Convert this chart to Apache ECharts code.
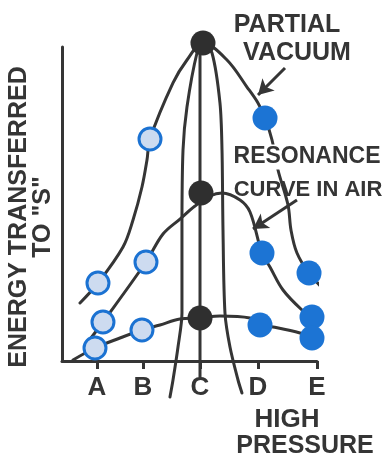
<!DOCTYPE html>
<html>
<head>
<meta charset="utf-8">
<script src="https://cdn.jsdelivr.net/npm/echarts@6/dist/echarts.min.js"></script>
<style>
html,body{margin:0;padding:0;background:#fff;}
#chart{width:387px;height:461px;}
</style>
</head>
<body>
<div id="chart"></div>
<script>
// ---- data (x: driving frequency, A..E ; y: energy transferred to "S") ----
const tickLetters = ['A', 'B', 'C', 'D', 'E'];
const tickValues = [1, 1.836, 2.873, 3.927, 5];

// partial vacuum resonance curve (traced line)
const vacuumCurve = [
  [0.691, 1.847], [1.018, 2.484], [1.473, 3.631], [1.655, 4.490], [1.818, 5.541],
  [1.909, 6.401], [1.964, 7.070], [2.382, 8.854], [2.636, 9.586], [2.927, 10.127], [3.364, 9.586],
  [3.727, 8.726], [3.927, 8.217], [4.055, 7.739], [4.182, 7.038], [4.291, 6.083],
  [4.473, 4.968], [4.527, 4.172], [4.636, 3.439], [4.855, 2.803], [5.273, 2.006]
];
// very sharp resonance lines around C
const sharpCurve = [
  [2.327, -1.146], [2.382, -0.605], [2.473, 0.446], [2.545, 1.529], [2.545, 4.172],
  [2.564, 6.720], [2.636, 8.089], [2.818, 9.809], [2.927, 10.127], [3.091, 9.809],
  [3.236, 8.217], [3.273, 6.720], [3.291, 4.172], [3.327, 1.529], [3.418, 0.446],
  [3.564, -0.605], [3.636, -1.019]
];
const centerLine = [[2.873, 10.1], [2.873, -0.51]];
// resonance curve in air
const airCurve = [
  [0.836, 0.605], [1.109, 1.242], [1.891, 3.153], [2.2, 4.045], [2.509, 4.522],
  [2.782, 4.936], [3.055, 5.255], [3.273, 5.350], [3.6, 5.127], [3.782, 4.745], [4.0, 3.439],
  [4.145, 2.994], [4.382, 2.261], [4.727, 1.624], [4.909, 1.401], [5.273, 0.987]
];
// high pressure curve
const pressureCurve = [
  [0.564, 0.032], [0.964, 0.414], [1.418, 0.732], [1.818, 0.987], [2.145, 1.146],
  [2.509, 1.338], [2.873, 1.369], [3.236, 1.433], [3.782, 1.369], [3.964, 1.146], [4.2, 1.083],
  [4.691, 0.892], [4.909, 0.732], [5.2, 0.573]
];
// dots
const lightDots = [[1.018, 2.484], [1.109, 1.242], [0.964, 0.414], [1.964, 7.070], [1.891, 3.153], [1.818, 0.987]];
const blackDots = [[2.927, 10.127], [2.891, 5.350], [2.873, 1.369]];
const blueDots = [[4.055, 7.739], [4.0, 3.439], [3.964, 1.146], [4.855, 2.803], [4.909, 1.401], [4.909, 0.732]];
// annotation arrows [from, to]
const arrowVacuum = [[4.418, 9.331], [3.927, 8.471]];
const arrowAir = [[4.636, 5.127], [3.836, 4.204]];
const arrowPressure = [[4.418, -1.242], [4.418, 0.892]];

const INK = '#353535';
const FONT = '"Liberation Sans", Arial, sans-serif';

const chart = echarts.init(document.getElementById('chart'), null, {renderer: 'canvas'});

function lineSeries(data, extra) {
  return Object.assign({
    type: 'line', data: data, smooth: 0.35, showSymbol: false, clip: false,
    silent: true, z: 3,
    lineStyle: {color: INK, width: 3, cap: 'round', join: 'round'}
  }, extra || {});
}

const option = {
  animation: false,
  backgroundColor: '#ffffff',
  grid: {left: 62, right: 70, top: 47, bottom: 100, containLabel: false},
  xAxis: {
    type: 'value', min: 0.364, max: 5,
    axisLine: {show: true, lineStyle: {color: INK, width: 3}},
    axisTick: {show: true, customValues: tickValues, length: 8, lineStyle: {color: INK, width: 3}},
    axisLabel: {
      show: true, customValues: tickValues, margin: 14,
      fontFamily: FONT, fontWeight: 'bold', fontSize: 26, color: INK,
      formatter: function (v) {
        let best = 0, d = 1e9;
        tickValues.forEach(function (t, i) { if (Math.abs(t - v) < d) { d = Math.abs(t - v); best = i; } });
        return tickLetters[best];
      }
    },
    splitLine: {show: false}
  },
  yAxis: {
    type: 'value', min: 0, max: 10,
    axisLine: {show: true, lineStyle: {color: INK, width: 3}},
    axisTick: {show: false}, axisLabel: {show: false}, splitLine: {show: false}
  },
  series: [
    lineSeries(vacuumCurve),
    lineSeries(sharpCurve, {smooth: 0.3}),
    lineSeries(centerLine, {smooth: false}),
    lineSeries(airCurve),
    lineSeries(pressureCurve, {
      markLine: {
        silent: true, animation: false,
        symbol: ['none', 'arrow'], symbolSize: [13, 15],
        lineStyle: {color: INK, width: 3, type: 'solid'},
        label: {show: false},
        emphasis: {disabled: true},
        data: [arrowVacuum, arrowAir, arrowPressure].map(function (a) {
          return [{coord: a[0]}, {coord: a[1]}];
        })
      }
    }),
    {
      type: 'scatter', data: lightDots, symbolSize: 22, clip: false, silent: true, z: 5,
      itemStyle: {color: '#cddbf0', borderColor: '#1b72d2', borderWidth: 3, opacity: 1}
    },
    {
      type: 'scatter', data: blackDots, symbolSize: 25, clip: false, silent: true, z: 5,
      itemStyle: {color: '#2f2f2f', opacity: 1}
    },
    {
      type: 'scatter', data: blueDots, symbolSize: 25, clip: false, silent: true, z: 5,
      itemStyle: {color: '#1c74d4', opacity: 1}
    }
  ],
  graphic: [
    {type: 'text', x: 31, y: 217, rotation: Math.PI / 2, z: 100,
      style: {text: 'ENERGY TRANSFERRED\nTO "S"', font: 'bold 25px ' + FONT, fill: INK,
        align: 'center', verticalAlign: 'middle', lineHeight: 24}},
    {type: 'text', x: 287, y: 25, z: 100,
      style: {text: 'PARTIAL', font: 'bold 25px ' + FONT, fill: INK, align: 'center', verticalAlign: 'middle'}},
    {type: 'text', x: 297, y: 53, z: 100,
      style: {text: 'VACUUM', font: 'bold 25px ' + FONT, fill: INK, align: 'center', verticalAlign: 'middle'}},
    {type: 'text', x: 307, y: 157, z: 100,
      style: {text: 'RESONANCE', font: 'bold 23px ' + FONT, fill: INK, align: 'center', verticalAlign: 'middle',
        backgroundColor: '#ffffff', padding: [1, 2]}},
    {type: 'text', x: 308, y: 190, z: 100,
      style: {text: 'CURVE IN AIR', font: 'bold 22px ' + FONT, fill: INK, align: 'center', verticalAlign: 'middle'}},
    {type: 'text', x: 287, y: 420, z: 100,
      style: {text: 'HIGH', font: 'bold 26px ' + FONT, fill: INK, align: 'center', verticalAlign: 'middle'}},
    {type: 'text', x: 305, y: 446, z: 100,
      style: {text: 'PRESSURE', font: 'bold 25px ' + FONT, fill: INK, align: 'center', verticalAlign: 'middle'}}
  ]
};
chart.setOption(option);
</script>
</body>
</html>
